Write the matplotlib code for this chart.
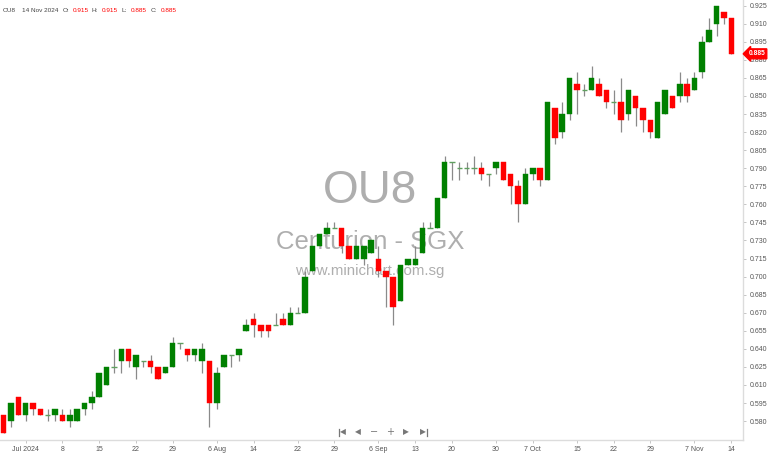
import numpy as np
import pandas as pd
import matplotlib
matplotlib.use("Agg")
import matplotlib.pyplot as plt
from matplotlib.lines import Line2D

plt.rcParams['font.family'] = ['Liberation Sans', 'DejaVu Sans']

# ---------------- data ----------------
dates = pd.bdate_range('2024-06-26', '2024-11-14', freq='C',
                       holidays=['2024-08-09', '2024-10-31'])

opens = [0.585, 0.580, 0.600,
         0.585, 0.595, 0.590, 0.585, 0.585, 0.585, 0.580, 0.580, 0.590, 0.595,
         0.600, 0.610, 0.625, 0.630, 0.640, 0.625, 0.630, 0.630, 0.625, 0.620,
         0.625, 0.645, 0.640, 0.635, 0.630, 0.630, 0.595, 0.625, 0.635, 0.635,
         0.655, 0.665, 0.660, 0.660, 0.660, 0.665, 0.660, 0.670, 0.670, 0.705,
         0.725, 0.735, 0.740, 0.740, 0.725, 0.715, 0.715, 0.720, 0.715, 0.705,
         0.700, 0.680, 0.710, 0.710, 0.720, 0.740, 0.740, 0.765, 0.795, 0.790,
         0.790, 0.790, 0.790, 0.785, 0.790, 0.795, 0.785, 0.775, 0.760, 0.785,
         0.790, 0.780, 0.840, 0.820, 0.835, 0.860, 0.855, 0.855, 0.860, 0.855,
         0.845, 0.845, 0.835, 0.850, 0.840, 0.830, 0.815, 0.835, 0.850, 0.850,
         0.860, 0.855, 0.870, 0.895, 0.910, 0.920, 0.915]
highs = [0.585, 0.595, 0.600,
         0.595, 0.595, 0.590, 0.590, 0.590, 0.590, 0.590, 0.590, 0.595, 0.605,
         0.620, 0.625, 0.640, 0.640, 0.640, 0.635, 0.630, 0.635, 0.625, 0.625,
         0.650, 0.645, 0.640, 0.640, 0.645, 0.630, 0.625, 0.635, 0.635, 0.640,
         0.665, 0.670, 0.660, 0.660, 0.670, 0.670, 0.675, 0.675, 0.705, 0.725,
         0.735, 0.745, 0.745, 0.740, 0.725, 0.725, 0.725, 0.730, 0.725, 0.705,
         0.700, 0.710, 0.715, 0.725, 0.745, 0.745, 0.765, 0.800, 0.795, 0.795,
         0.795, 0.800, 0.795, 0.785, 0.795, 0.795, 0.785, 0.780, 0.790, 0.790,
         0.790, 0.845, 0.840, 0.845, 0.865, 0.870, 0.860, 0.875, 0.865, 0.855,
         0.855, 0.865, 0.855, 0.850, 0.840, 0.830, 0.845, 0.855, 0.850, 0.870,
         0.865, 0.870, 0.900, 0.915, 0.925, 0.920, 0.915]
lows = [0.570, 0.575, 0.585,
        0.580, 0.585, 0.585, 0.580, 0.580, 0.580, 0.575, 0.580, 0.585, 0.590,
        0.600, 0.610, 0.620, 0.620, 0.625, 0.615, 0.625, 0.620, 0.615, 0.620,
        0.625, 0.640, 0.630, 0.630, 0.620, 0.575, 0.590, 0.625, 0.625, 0.630,
        0.655, 0.650, 0.650, 0.650, 0.660, 0.660, 0.660, 0.670, 0.670, 0.705,
        0.725, 0.735, 0.740, 0.720, 0.715, 0.715, 0.710, 0.720, 0.700, 0.675,
        0.660, 0.680, 0.710, 0.710, 0.720, 0.740, 0.740, 0.765, 0.780, 0.780,
        0.785, 0.785, 0.780, 0.775, 0.785, 0.780, 0.760, 0.745, 0.760, 0.780,
        0.775, 0.780, 0.810, 0.815, 0.830, 0.835, 0.850, 0.855, 0.850, 0.840,
        0.835, 0.820, 0.830, 0.825, 0.820, 0.815, 0.815, 0.835, 0.840, 0.845,
        0.845, 0.855, 0.865, 0.895, 0.900, 0.910, 0.885]
closes = [0.570, 0.595, 0.585,
          0.595, 0.590, 0.585, 0.585, 0.590, 0.580, 0.585, 0.590, 0.595, 0.600,
          0.620, 0.625, 0.625, 0.640, 0.630, 0.635, 0.630, 0.625, 0.615, 0.625,
          0.645, 0.645, 0.635, 0.640, 0.640, 0.595, 0.620, 0.635, 0.635, 0.640,
          0.660, 0.660, 0.655, 0.655, 0.660, 0.660, 0.670, 0.670, 0.700, 0.725,
          0.735, 0.740, 0.740, 0.725, 0.715, 0.725, 0.725, 0.730, 0.705, 0.700,
          0.675, 0.710, 0.715, 0.715, 0.740, 0.740, 0.765, 0.795, 0.795, 0.790,
          0.790, 0.790, 0.785, 0.785, 0.795, 0.780, 0.775, 0.760, 0.785, 0.790,
          0.780, 0.845, 0.815, 0.835, 0.865, 0.855, 0.855, 0.865, 0.850, 0.845,
          0.845, 0.830, 0.855, 0.840, 0.830, 0.820, 0.845, 0.855, 0.840, 0.860,
          0.850, 0.865, 0.895, 0.905, 0.925, 0.915, 0.885]

tick_dates = ['2024-07-01', '2024-07-08', '2024-07-15', '2024-07-22', '2024-07-29',
              '2024-08-06', '2024-08-14', '2024-08-22', '2024-08-29', '2024-09-06',
              '2024-09-13', '2024-09-20', '2024-09-30', '2024-10-07', '2024-10-15',
              '2024-10-22', '2024-10-29', '2024-11-07', '2024-11-14']
tick_labels = ['Jul 2024', '8', '15', '22', '29', '6 Aug', '14', '22', '29', '6 Sep',
               '13', '20', '30', '7 Oct', '15', '22', '29', '7 Nov', '14']

y_ticks = [0.580, 0.595, 0.610, 0.625, 0.640, 0.655, 0.670, 0.685, 0.700, 0.715,
           0.730, 0.745, 0.760, 0.775, 0.790, 0.805, 0.820, 0.835, 0.850, 0.865,
           0.880, 0.895, 0.910, 0.925]

symbol = 'OU8'
company = 'Centurion - SGX'
site = 'www.minichart.com.sg'
last_date = '14 Nov 2024'
last_ohlc = [('O:', '0.915'), ('H:', '0.915'), ('L:', '0.885'), ('C:', '0.885')]

# ---------------- figure ----------------
W, H = 768, 454
fig = plt.figure(figsize=(W / 100, H / 100), dpi=100)
ax = fig.add_axes([0, 14 / H, 743 / W, 440 / H])
ax.set_facecolor('white')

GREEN = '#008000'
RED = '#ff0000'
WICK = '#8a8a8a'
DOJI = '#5f9f5f'

o = np.array(opens); h = np.array(highs); l = np.array(lows); c = np.array(closes)
x = np.arange(len(dates))
width = 0.74

ax.vlines(x, l, h, color=WICK, lw=0.9, zorder=2)
up = c > o
dn = c < o
eq = c == o
ax.bar(x[up], (c - o)[up], bottom=o[up], width=width, color=GREEN,
       edgecolor=GREEN, lw=0.3, zorder=3)
ax.bar(x[dn], (o - c)[dn], bottom=c[dn], width=width, color=RED,
       edgecolor=RED, lw=0.3, zorder=3)
ax.hlines(c[eq], x[eq] - width / 2, x[eq] + width / 2, color=DOJI, lw=1.0, zorder=3)

ax.set_xlim(-0.5, 100.6)
ax.set_ylim(0.5643, 0.9297)

# axes styling
for s in ['top', 'left']:
    ax.spines[s].set_visible(False)
for s in ['right', 'bottom']:
    ax.spines[s].set_color('#dcdcdc')
    ax.spines[s].set_linewidth(1.0)

ax.yaxis.tick_right()
ax.set_yticks(y_ticks)
ax.set_yticklabels([f'{v:.3f}' for v in y_ticks])
ax.tick_params(axis='y', which='both', length=2.5, width=0.6, color='#bbbbbb',
               labelsize=5.0, labelcolor='#555555', pad=2)

date_index = {d.strftime('%Y-%m-%d'): i for i, d in enumerate(dates)}
ax.set_xticks([date_index[d] for d in tick_dates])
ax.set_xticklabels(tick_labels)
ax.tick_params(axis='x', which='both', length=2.5, width=0.6, color='#bbbbbb',
               labelsize=5.0, labelcolor='#555555', pad=2)

# watermark
wm = '#a0a0a0'
ax.text(370 / 743, 1 - 191 / 440, symbol, transform=ax.transAxes, ha='center',
        va='center', fontsize=33, color=wm, alpha=0.85, zorder=1)
ax.text(370 / 743, 1 - 242 / 440, company, transform=ax.transAxes, ha='center',
        va='center', fontsize=18.5, color=wm, alpha=0.85, zorder=1)
ax.text(370 / 743, 1 - 271 / 440, site, transform=ax.transAxes, ha='center',
        va='center', fontsize=10.8, color=wm, alpha=0.85, zorder=1)

# last price tag
ax.annotate(f'{closes[-1]:.3f}', xy=(1.0, closes[-1]),
            xycoords=('axes fraction', 'data'), xytext=(4.0, 0),
            textcoords='offset points', ha='left', va='center', fontsize=4.8,
            color='white', fontweight='bold',
            bbox=dict(boxstyle='larrow,pad=0.22', fc=RED, ec=RED),
            annotation_clip=False, zorder=10)

# header
def fx(px):
    return px / W

def fy(py):
    return 1 - py / H

HFS = 4.6
fig.text(fx(3), fy(10), symbol, fontsize=HFS, color='#444444', va='center')
fig.text(fx(22), fy(10), last_date, fontsize=HFS, color='#444444', va='center')
hx = [(63, 73), (92, 102), (122, 131), (151, 161)]
for (lab, val), (lx, vx) in zip(last_ohlc, hx):
    fig.text(fx(lx), fy(10), lab, fontsize=HFS, color='#444444', va='center')
    fig.text(fx(vx), fy(10), val, fontsize=HFS, color=RED, va='center')

# navigation icons
nav = '#777777'
ny = 432
fig.add_artist(Line2D([fx(339), fx(339)], [fy(ny - 3.5), fy(ny + 3.5)], color=nav, lw=0.9))
fig.text(fx(340), fy(ny), '\u25C0', fontsize=5.5, color=nav, va='center', ha='left',
         family=['DejaVu Sans'])
fig.text(fx(358), fy(ny), '\u25C0', fontsize=5.5, color=nav, va='center', ha='center',
         family=['DejaVu Sans'])
fig.text(fx(374.5), fy(ny), '\u2212', fontsize=7, color=nav, va='center', ha='center',
         family=['DejaVu Sans'])
fig.text(fx(390), fy(ny), '+', fontsize=7, color=nav, va='center', ha='center',
         family=['DejaVu Sans'])
fig.text(fx(406), fy(ny), '\u25B6', fontsize=5.5, color=nav, va='center', ha='center',
         family=['DejaVu Sans'])
fig.text(fx(426), fy(ny), '\u25B6', fontsize=5.5, color=nav, va='center', ha='right',
         family=['DejaVu Sans'])
fig.add_artist(Line2D([fx(426.5), fx(426.5)], [fy(ny - 3.5), fy(ny + 3.5)], color=nav, lw=0.9))

fig.savefig('out.png', dpi=100, facecolor='white')
